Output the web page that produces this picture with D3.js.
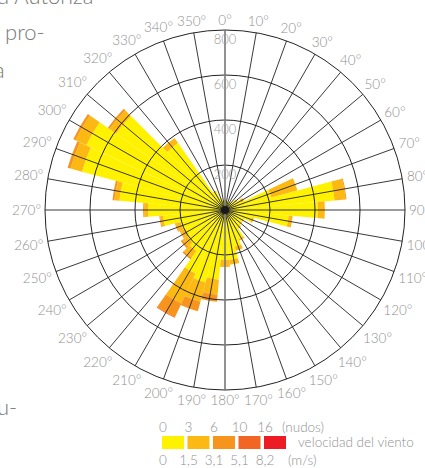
<!DOCTYPE html>
<html>
<head>
<meta charset="utf-8">
<script src="https://cdn.jsdelivr.net/npm/d3@7"></script>
<style>
  body { margin: 0; background: #fff; }
  text { font-family: "Lato Light", Lato, "Open Sans", sans-serif; font-weight: 300; fill: #909090; }
</style>
</head>
<body>
<svg id="chart" width="425" height="468"></svg>
<script>
// direcciones (grados) y frecuencias por clase de velocidad
const directions = [0,10,20,30,40,50,60,70,80,90,100,110,120,130,140,150,160,170,
                    180,190,200,210,220,230,240,250,260,270,280,290,300,310,320,330,340,350];
const yellow     = [44,40,40,40,44,62,80,213,489,413,284,124,89,89,98,142,169,222,
                    222,311,333,311,222,204,196,204,276,342,471,658,680,591,364,90,53,44];
const lightOrange= [0,0,0,0,0,4,13,120,49,31,18,9,4,4,4,9,18,22,
                    31,67,89,147,36,27,22,22,13,18,22,53,53,36,27,4,0,0];
const orange     = [0,0,0,0,0,0,0,0,4,0,0,0,0,0,0,0,0,0,
                    0,31,44,67,9,9,4,4,4,4,9,13,11,9,0,0,0,0];
const darkOrange = [0,0,0,0,0,0,0,0,0,0,0,0,0,0,0,0,0,0,
                    0,0,0,4,0,0,0,0,0,0,0,0,0,0,0,0,0,0];
const red        = [0,0,0,0,0,0,0,0,0,0,0,0,0,0,0,0,0,0,
                    0,0,0,0,0,0,0,0,0,0,0,0,0,0,0,0,0,0];

const radialTicks = [200, 400, 600, 800];
const classColors = ["#fff200", "#fdb913", "#f7941d", "#f26522", "#ed1c24"];
const knotLabels = ["0", "3", "6", "10", "16"];
const msLabels = ["0", "1,5", "3,1", "5,1", "8,2"];

const svg = d3.select("#chart");
const cx = 225, cy = 210;
const r = d3.scaleLinear().domain([0, 800]).range([0, 180]);
const rad = d => d * Math.PI / 180;

// texto cortado del documento a la izquierda
const body = svg.append("g").style("font-size", "22px");
[["d Autoriza", -3, 4], ["pro-", 5, 40], ["a", -6, 78], ["u-", -3, 415]].forEach(t => {
  body.append("text").attr("x", t[1]).attr("y", t[2]).style("fill", "#7a7a7a").text(t[0]);
});

const g = svg.append("g").attr("transform", `translate(${cx},${cy})`);

// barras apiladas
const keys = ["yellow", "lightOrange", "orange", "darkOrange", "red"];
const rows = directions.map((d, i) => ({
  dir: d, yellow: yellow[i], lightOrange: lightOrange[i], orange: orange[i],
  darkOrange: darkOrange[i], red: red[i]
}));
const stacked = d3.stack().keys(keys)(rows);

const arc = d3.arc()
  .innerRadius(d => r(d[0]))
  .outerRadius(d => r(d[1]))
  .startAngle(d => rad(d.data.dir - 5))
  .endAngle(d => rad(d.data.dir + 5));

g.selectAll(".layer")
  .data(stacked)
  .enter().append("g")
  .attr("fill", (d, i) => classColors[i])
  .selectAll("path")
  .data(d => d.filter(s => s[1] > s[0]))
  .enter().append("path")
  .attr("d", arc);

// circulos
g.selectAll(".ring")
  .data(radialTicks)
  .enter().append("circle")
  .attr("r", d => r(d))
  .attr("fill", "none")
  .attr("stroke", "#222")
  .attr("stroke-width", 1);

// lineas radiales
g.selectAll(".spoke")
  .data(directions.filter(d => d % 180 !== 0))
  .enter().append("line")
  .attr("x1", 0).attr("y1", 0)
  .attr("x2", d => r(800) * Math.sin(rad(d)))
  .attr("y2", d => -r(800) * Math.cos(rad(d)))
  .attr("stroke", "#222")
  .attr("stroke-width", 0.9);

// eje vertical gris
g.append("line")
  .attr("x1", 0).attr("x2", 0)
  .attr("y1", -r(800)).attr("y2", r(800))
  .attr("stroke", "#777")
  .attr("stroke-width", 1.6);

g.append("circle").attr("r", 4).attr("fill", "#1a1a1a");

// etiquetas radiales
g.selectAll(".rlabel")
  .data(radialTicks)
  .enter().append("text")
  .attr("x", 0)
  .attr("y", d => -r(d) + 9)
  .attr("text-anchor", "middle")
  .attr("dominant-baseline", "central")
  .style("font-size", "13px")
  .style("fill", "#9a9a9a")
  .text(d => d);

// etiquetas de angulo
const angLabels = g.selectAll(".alabel")
  .data(directions)
  .enter().append("text")
  .attr("text-anchor", "middle")
  .attr("dominant-baseline", "central")
  .style("font-size", "13.5px")
  .text(d => d + "°");

angLabels.each(function(d) {
  const w = this.getComputedTextLength() / 2;
  const s = Math.sin(rad(d)), c = Math.cos(rad(d));
  const rr = 184 + w * Math.abs(s) + 6 * Math.abs(c);
  d3.select(this).attr("x", rr * s).attr("y", -rr * c);
});

// leyenda
const legend = svg.append("g").attr("transform", "translate(162,436)");
legend.selectAll("rect")
  .data(classColors)
  .enter().append("rect")
  .attr("x", (d, i) => i * 25.5)
  .attr("y", 0)
  .attr("width", 22)
  .attr("height", 13)
  .attr("fill", d => d);

legend.selectAll(".kn")
  .data(knotLabels)
  .enter().append("text")
  .attr("x", (d, i) => i * 25.5 + 1)
  .attr("y", -4)
  .attr("text-anchor", "middle")
  .style("font-size", "13.5px")
  .text(d => d);

legend.append("text").attr("x", 120).attr("y", -4).style("font-size", "13.5px").text("(nudos)");

legend.selectAll(".ms")
  .data(msLabels)
  .enter().append("text")
  .attr("x", (d, i) => i * 25.5 + 1)
  .attr("y", 29)
  .attr("text-anchor", "middle")
  .style("font-size", "13.5px")
  .text(d => d);

legend.append("text").attr("x", 126).attr("y", 29).style("font-size", "13.5px").text("(m/s)");
legend.append("text").attr("x", 136).attr("y", 11).style("font-size", "13.5px").text("velocidad del viento");
</script>
</body>
</html>
